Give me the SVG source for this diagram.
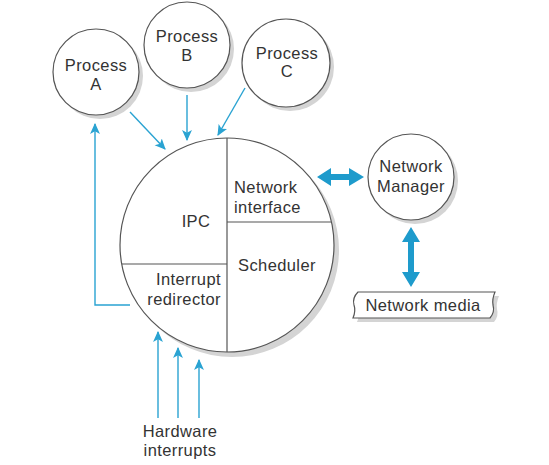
<svg xmlns="http://www.w3.org/2000/svg" width="549" height="465" viewBox="0 0 549 465">
<defs>
<style>
.t{font-family:"Liberation Sans",Arial,sans-serif;font-size:16.5px;fill:#333;letter-spacing:0.4px}
.c{text-anchor:middle}
.node{fill:#fff;stroke:#555;stroke-width:1.2}
.sh{fill:#d4d4d4}
.thin{stroke:#2aa3d2;stroke-width:1.4;fill:none;marker-end:url(#ah)}
.thick{fill:#1e9bcc}
.div{stroke:#555;stroke-width:1.2}
</style>
<marker id="ah" viewBox="0 0 10 10" refX="9" refY="5" markerWidth="11" markerHeight="11" markerUnits="userSpaceOnUse" orient="auto">
<path d="M0,0.5 L10,5 L0,9.5 L2.5,5 Z" fill="#2aa3d2"/>
</marker>
</defs>
<rect width="549" height="465" fill="#fff"/>

<g id="processA">
<circle class="sh" cx="100" cy="76" r="43"/>
<circle class="node" cx="96" cy="72" r="43"/>
<text class="t c" x="96" y="71">Process</text>
<text class="t c" x="96" y="90">A</text>
</g>
<g id="processB">
<circle class="sh" cx="191" cy="49" r="43"/>
<circle class="node" cx="187" cy="45" r="43"/>
<text class="t c" x="187" y="42">Process</text>
<text class="t c" x="187" y="61">B</text>
</g>
<g id="processC">
<circle class="sh" cx="290" cy="67" r="44"/>
<circle class="node" cx="286" cy="63" r="44"/>
<text class="t c" x="287" y="59">Process</text>
<text class="t c" x="287" y="77">C</text>
</g>

<g id="kernel">
<circle class="sh" cx="232" cy="250" r="107"/>
<circle class="node" cx="227" cy="245" r="107"/>
<line class="div" x1="227" y1="138" x2="227" y2="352"/>
<line class="div" x1="227" y1="222" x2="331" y2="222"/>
<line class="div" x1="122" y1="264" x2="227" y2="264"/>
<text class="t c" x="196" y="227">IPC</text>
<text class="t" x="234" y="193">Network</text>
<text class="t" x="234" y="213">interface</text>
<text class="t" x="238" y="271">Scheduler</text>
<text class="t" x="221" y="285" text-anchor="end">Interrupt</text>
<text class="t" x="221" y="305" text-anchor="end">redirector</text>
</g>

<g id="networkManager">
<circle class="sh" cx="415" cy="181" r="43"/>
<circle class="node" cx="411" cy="177" r="43"/>
<text class="t c" x="411" y="172">Network</text>
<text class="t c" x="411" y="192">Manager</text>
</g>

<g id="networkMedia">
<path class="sh" d="M362,296 L499,296 Q496,303 497,309 Q499,316 494,322 L357,322 Q360,315 358,309 Q356,302 362,296 Z"/>
<path class="node" d="M358,292 L495,292 Q492,299 493,305 Q495,312 490,318 L353,318 Q356,311 354,305 Q352,298 358,292 Z"/>
<text class="t c" x="423" y="311">Network media</text>
</g>

<g id="hardwareInterrupts">
<text class="t c" x="180" y="437">Hardware</text>
<text class="t c" x="180" y="456">interrupts</text>
</g>

<g id="connectors">
<line class="thin" x1="130" y1="112" x2="165" y2="149"/>
<line class="thin" x1="187" y1="95" x2="187" y2="140"/>
<line class="thin" x1="245" y1="88" x2="218" y2="135"/>
<polyline class="thin" points="130,305 95,305 95,124"/>
<line class="thin" x1="158" y1="418" x2="158" y2="332"/>
<line class="thin" x1="178" y1="418" x2="178" y2="348"/>
<line class="thin" x1="199" y1="418" x2="199" y2="360"/>
<path class="thick" d="M317,177 L331,168 L331,174 L349,174 L349,168 L364,177 L349,186 L349,180 L331,180 L331,186 Z"/>
<path class="thick" d="M411,227 L420,242 L414,242 L414,272 L420,272 L411,287 L402,272 L408,272 L408,242 L402,242 Z"/>
</g>
</svg>
